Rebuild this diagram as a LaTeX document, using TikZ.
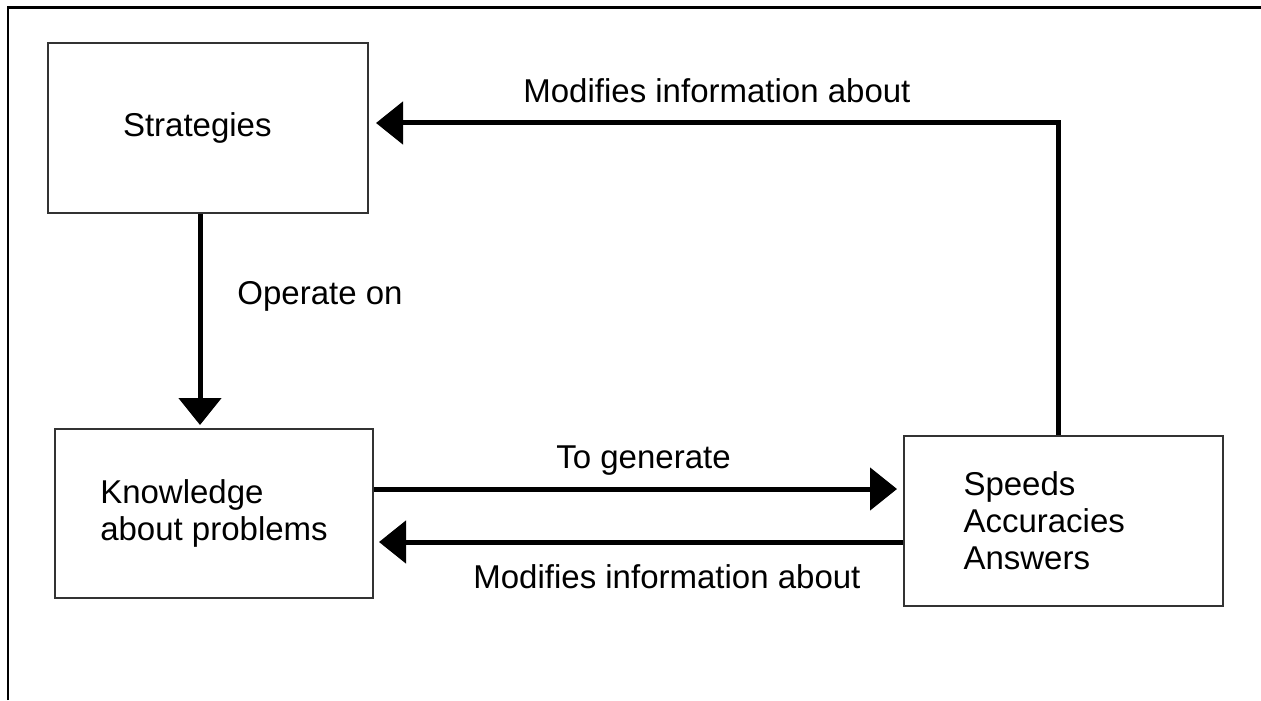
\documentclass[tikz,border=0pt]{standalone}
\usepackage{fontspec}
\setmainfont{Liberation Sans}
\usetikzlibrary{arrows.meta,positioning}

\tikzset{
  box/.style={draw=black!80, line width=1pt, inner sep=0pt, align=left,
    font=\fontsize{16.5}{18.5}\selectfont},
  flow/.style={line width=2.5pt, -{Triangle[length=13.5pt,width=21pt]}},
  lbl/.style={anchor=base west, inner sep=0pt, font=\fontsize{16.5}{18.5}\selectfont}
}

\begin{document}
\begin{tikzpicture}[x=0.5pt,y=-0.5pt]
    \useasboundingbox (0,0) rectangle (1261,700);
    \draw[line width=1.1pt] (8,700) -- (8,7.5) -- (1261,7.5);

    % boxes
    \node[box, minimum width=160pt, minimum height=85pt, text width=85pt] (strat) at (208,128) {Strategies};
    \node[box, minimum width=159pt, minimum height=84.5pt] (know) at (214,513.5) {Knowledge\\about problems};
    \node[box, minimum width=159.5pt, minimum height=85pt, text width=100pt] (speeds) at (1063.5,521) {Speeds\\Accuracies\\Answers};

    % connectors
    \draw[flow, shorten >=1.5pt] ([xshift=-4pt]strat.south) -- ([xshift=-4pt]strat.south |- know.north);
    \draw[flow, shorten >=3pt] ([yshift=12.25pt]know.east) -- ([yshift=12.25pt]know.east -| speeds.west);
    \draw[flow, shorten >=2.5pt] ([yshift=-10.5pt]speeds.west) -- ([yshift=-10.5pt]speeds.west -| know.east);
    \draw[flow, shorten >=3.5pt] ([xshift=-2.75pt]speeds.north) |- ([yshift=2.5pt]strat.east);

    % labels
    \node[lbl] (mod1) at (523,103) {Modifies information about};
    \node[lbl] (oper) at (237,304) {Operate on};
    \node[lbl] (gen) at (556,468) {To generate};
    \node[lbl] (mod2) at (473,588) {Modifies information about};
  \end{tikzpicture}
\end{document}
